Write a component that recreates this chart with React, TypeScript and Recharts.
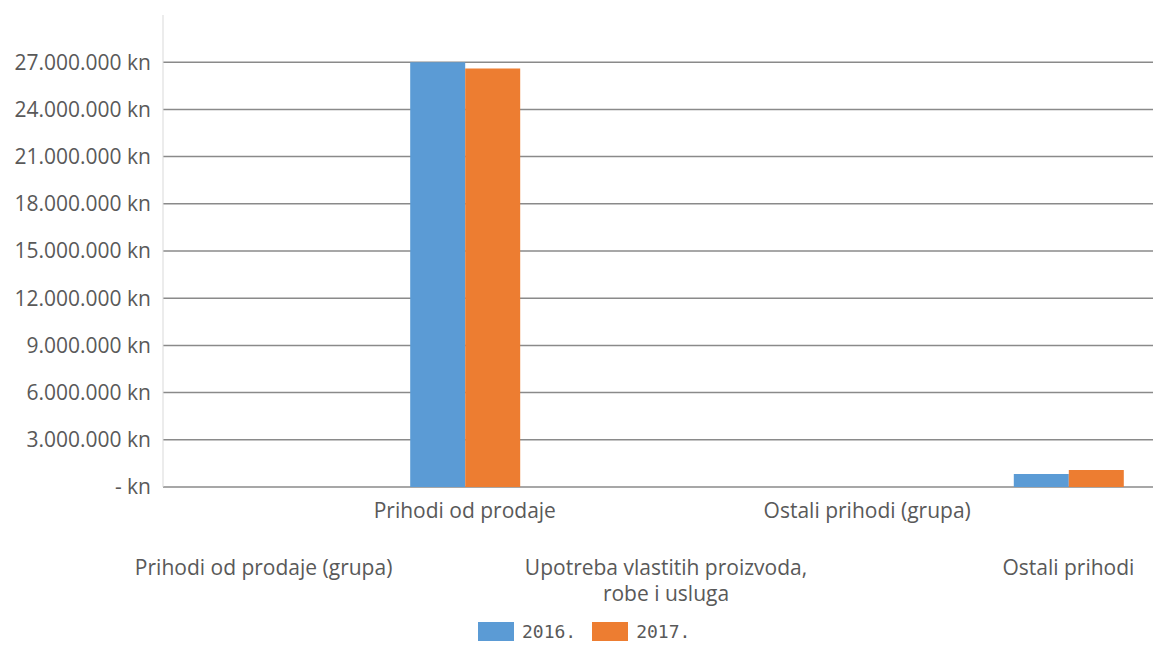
import { BarChart, Bar, XAxis, YAxis, CartesianGrid, Legend } from 'recharts';

const categories = [
  'Prihodi od prodaje (grupa)',
  'Prihodi od prodaje',
  'Upotreba vlastitih proizvoda, robe i usluga',
  'Ostali prihodi (grupa)',
  'Ostali prihodi',
];
const values2016 = [0, 27000000, 0, 0, 820000];
const values2017 = [0, 26600000, 0, 0, 1080000];
const yTicks = [0, 3000000, 6000000, 9000000, 12000000, 15000000, 18000000, 21000000, 24000000, 27000000];
const seriesNames = ['2016.', '2017.'];
const seriesColors = ['#5B9BD5', '#ED7D31'];

const data = categories.map((name, i) => ({ name, v2016: values2016[i], v2017: values2017[i] }));

const textColor = '#595959';
const fontFamily = '"Open Sans", sans-serif';

function formatKn(v: number) {
  if (v === 0) return '- kn';
  return String(v).replace(/\B(?=(\d{3})+(?!\d))/g, '.') + ' kn';
}

// Excel-style staggered category labels: odd ones on the upper row
function CategoryTick(props: any) {
  const { x, y, payload } = props;
  const idx = payload.index ?? props.index ?? 0;
  const label: string = payload.value;
  const cut = label.indexOf(', ');
  const lines = cut > 0 ? [label.slice(0, cut + 1), label.slice(cut + 2)] : [label];
  const dy = idx % 2 === 1 ? 29 : 86;
  return (
    <g>
      {lines.map((l, i) => (
        <text
          key={i}
          x={x}
          y={y + dy + i * 26}
          textAnchor="middle"
          fill={textColor}
          fontSize={21}
          fontFamily={fontFamily}
        >
          {l}
        </text>
      ))}
    </g>
  );
}

function LegendContent() {
  return (
    <div style={{ height: 27, display: 'flex', alignItems: 'flex-start', paddingLeft: 470 }}>
      {seriesNames.map((n, i) => (
        <div key={n} style={{ display: 'flex', alignItems: 'center', marginRight: 16 }}>
          <div style={{ width: 36, height: 19, background: seriesColors[i], marginRight: 8 }} />
          <span style={{ fontFamily: '"DejaVu Sans Mono", monospace', fontSize: 18, color: textColor, lineHeight: '19px' }}>
            {n}
          </span>
        </div>
      ))}
    </div>
  );
}

export default function App() {
  return (
    <div style={{ width: 1153, height: 641, overflow: 'hidden', background: '#fff' }}>
      <BarChart
        width={1161}
        height={641}
        data={data}
        margin={{ top: 7, right: 0, left: 0, bottom: 0 }}
        barGap={0}
      >
        <CartesianGrid horizontal vertical={false} horizontalValues={yTicks} stroke="#8a8a8a" strokeWidth={1.5} />
        <XAxis
          dataKey="name"
          axisLine={false}
          tickLine={false}
          tickSize={0}
          height={135}
          interval={0}
          tick={<CategoryTick />}
        />
        <YAxis
          width={155}
          domain={[0, 30000000]}
          ticks={yTicks}
          tickFormatter={formatKn}
          axisLine={{ stroke: '#d9d9d9' }}
          tickLine={false}
          tickSize={0}
          tickMargin={12}
          tick={{ fill: textColor, fontSize: 21, fontFamily }}
        />
        <Legend verticalAlign="bottom" content={<LegendContent />} />
        <Bar dataKey="v2016" name={seriesNames[0]} fill={seriesColors[0]} barSize={55} isAnimationActive={false} />
        <Bar dataKey="v2017" name={seriesNames[1]} fill={seriesColors[1]} barSize={55} isAnimationActive={false} />
      </BarChart>
    </div>
  );
}
